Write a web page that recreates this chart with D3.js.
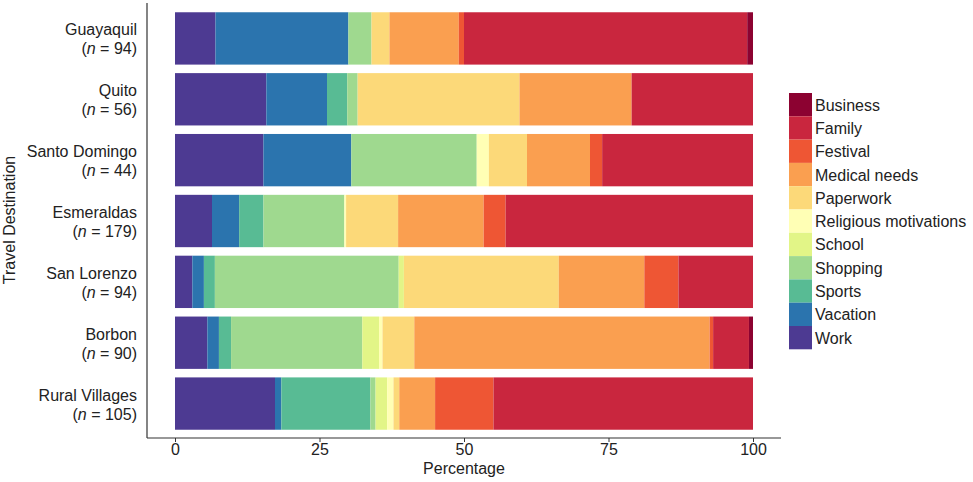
<!DOCTYPE html>
<html>
<head>
<meta charset="utf-8">
<script src="https://cdn.jsdelivr.net/npm/d3@7"></script>
<style>
  body { margin: 0; background: #fff; }
  svg { font-family: "Liberation Sans", Arial, sans-serif; }
</style>
</head>
<body>
<script>
'use strict';

// destinations, top to bottom
const places = ['Guayaquil', 'Quito', 'Santo Domingo', 'Esmeraldas', 'San Lorenzo', 'Borbon', 'Rural Villages'];
const sampleSizes = [94, 56, 44, 179, 94, 90, 105];

// stacking order, left to right
const reasons = ['Work', 'Vacation', 'Sports', 'Shopping', 'School', 'Religious motivations',
  'Paperwork', 'Medical needs', 'Festival', 'Family', 'Business'];
const reasonColors = ['#4d3a92', '#2b74ae', '#58bb94', '#9fd98f', '#e2f587', '#ffffb5',
  '#fcd979', '#fa9f50', '#ee5634', '#c9263e', '#8c0231'];

// percentages per reason, one value per destination (same order as places)
const work      = [7.0, 15.8, 15.3, 6.4, 3.0, 5.6, 17.3];
const vacation  = [23.0, 10.5, 15.2, 4.7, 2.0, 2.0, 1.1];
const sports    = [0, 3.5, 0, 4.2, 1.9, 2.1, 15.4];
const shopping  = [4.0, 1.8, 21.7, 14.0, 31.8, 22.7, 0.9];
const school    = [0, 0, 0, 0, 0.9, 2.9, 2.0];
const religious = [0, 0, 2.1, 0.3, 0, 0.6, 1.1];
const paperwork = [3.1, 28.0, 6.6, 9.0, 26.8, 5.5, 1.0];
const medical   = [12.0, 19.4, 10.9, 14.8, 14.8, 51.1, 6.2];
const festival  = [0.9, 0, 2.1, 3.8, 5.9, 0.6, 10.1];
const family    = [49.0, 21.0, 26.1, 42.8, 12.9, 6.2, 44.9];
const business  = [1.0, 0, 0, 0, 0, 0.7, 0];

const xTicks = [0, 25, 50, 75, 100];

const seriesValues = [work, vacation, sports, shopping, school, religious,
  paperwork, medical, festival, family, business];

const width = 973, height = 482;

const svg = d3.select('body').append('svg')
  .attr('width', width)
  .attr('height', height);

let table = places.map((p, i) => {
  let row = { place: p, n: sampleSizes[i] };
  reasons.forEach((r, j) => { row[r] = seriesValues[j][i]; });
  return row;
});

let stacked = d3.stack().keys(reasons)(table);

let xScale = d3.scaleLinear().domain([0, 100]).range([175, 753]);
let yScale = d3.scaleBand().domain(places).range([8, 434])
  .paddingInner(0.14).paddingOuter(0.07);
let color = d3.scaleOrdinal().domain(reasons).range(reasonColors);

// bars
svg.append('g').selectAll('g')
  .data(stacked)
  .enter().append('g')
    .attr('fill', (d) => color(d.key))
  .selectAll('rect')
  .data((d) => d)
  .enter().append('rect')
    .attr('x', (d) => xScale(d[0]))
    .attr('y', (d) => yScale(d.data.place))
    .attr('width', (d) => Math.max(0, xScale(d[1]) - xScale(d[0])))
    .attr('height', yScale.bandwidth());

// axes lines
svg.append('line')
  .attr('x1', 147).attr('x2', 147)
  .attr('y1', 3).attr('y2', 438)
  .attr('stroke', '#333').attr('stroke-width', 1.2);

let xAxis = svg.append('g')
  .attr('transform', 'translate(0, 438)')
  .call(d3.axisBottom(xScale).tickValues(xTicks).tickSize(4).tickPadding(2));
xAxis.select('.domain').remove();
xAxis.append('line')
  .attr('x1', 147).attr('x2', 781)
  .attr('stroke', '#333').attr('stroke-width', 1.2);
xAxis.selectAll('.tick line').attr('stroke', '#333');
xAxis.selectAll('.tick text')
  .attr('fill', '#222')
  .style('font-size', '16px')
  .style('font-family', '"Liberation Sans", Arial, sans-serif');

svg.append('text')
  .attr('x', xScale(50))
  .attr('y', 474)
  .attr('text-anchor', 'middle')
  .style('font-size', '16px')
  .attr('fill', '#222')
  .text('Percentage');

svg.append('text')
  .attr('transform', 'translate(15, 220)rotate(-90)')
  .attr('text-anchor', 'middle')
  .style('font-size', '16px')
  .attr('fill', '#222')
  .text('Travel Destination');

// category labels
let labels = svg.append('g').selectAll('text')
  .data(table)
  .enter().append('text')
    .attr('text-anchor', 'end')
    .style('font-size', '16px')
    .attr('fill', '#222');

labels.append('tspan')
  .attr('x', 137)
  .attr('y', (d) => yScale(d.place) + yScale.bandwidth() / 2 - 3)
  .text((d) => d.place);

let second = labels.append('tspan')
  .attr('x', 137)
  .attr('y', (d) => yScale(d.place) + yScale.bandwidth() / 2 + 16);
second.append('tspan').text('(');
second.append('tspan').style('font-style', 'italic').text('n');
second.append('tspan').text((d) => ' = ' + d.n + ')');

// legend
let legendItems = reasons.slice().sort();
let legend = svg.append('g').attr('transform', 'translate(789, 93)');
let itemH = 23.3;

legend.selectAll('rect')
  .data(legendItems)
  .enter().append('rect')
    .attr('x', 0)
    .attr('y', (d, i) => i * itemH)
    .attr('width', 23)
    .attr('height', itemH)
    .attr('fill', (d) => color(d));

legend.selectAll('text')
  .data(legendItems)
  .enter().append('text')
    .attr('x', 26)
    .attr('y', (d, i) => i * itemH + itemH / 2 + 6)
    .style('font-size', '16px')
    .attr('fill', '#222')
    .text((d) => d);
</script>
</body>
</html>
